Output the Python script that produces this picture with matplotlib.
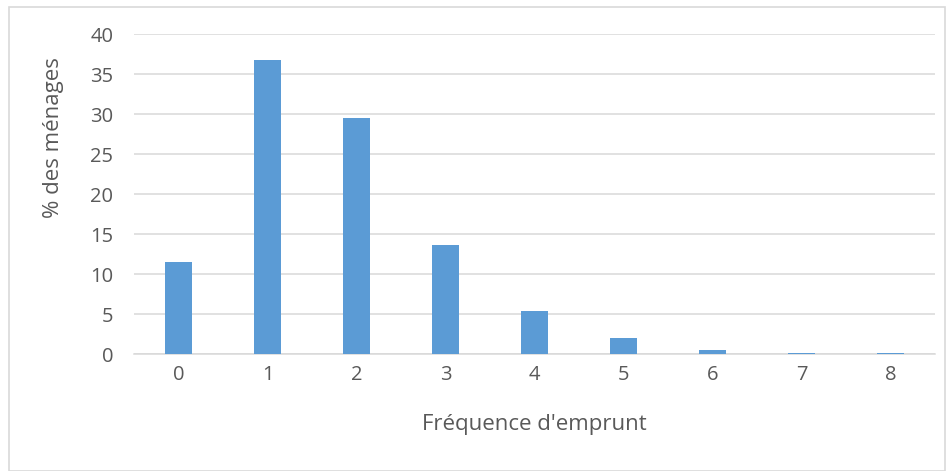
import matplotlib.pyplot as plt
from matplotlib.patches import Rectangle

# Data
categories = ["0", "1", "2", "3", "4", "5", "6", "7", "8"]
pct_households = [11.5, 36.7, 29.5, 13.6, 5.4, 2.0, 0.5, 0.15, 0.15]

text_color = "#595959"
grid_color = "#d9d9d9"
bar_color = "#5b9bd5"

plt.rcParams['font.family'] = ['Open Sans', 'DejaVu Sans']

W, H = 946, 471
fig = plt.figure(figsize=(W / 100, H / 100), dpi=100)
ax = fig.add_axes([134 / W, 1 - 354 / H, (935 - 134) / W, (354 - 34) / H])

x = range(len(categories))
ax.bar(x, pct_households, width=0.31, color=bar_color, zorder=3)

ax.set_xlim(-0.5, len(categories) - 0.5)
ax.set_ylim(0, 40)
ax.set_yticks(range(0, 41, 5))
ax.set_xticks(list(x))
ax.set_xticklabels(categories)

ax.grid(axis='y', color=grid_color, linewidth=1.1, zorder=0)
for side in ['top', 'right', 'left']:
    ax.spines[side].set_visible(False)
ax.spines['bottom'].set_color(grid_color)
ax.spines['bottom'].set_linewidth(1.1)
ax.tick_params(length=0, labelsize=14.5, colors=text_color)
ax.tick_params(axis='x', pad=8)
ax.tick_params(axis='y', pad=15)

ax.set_xlabel("Fréquence d'emprunt", fontsize=16, color=text_color)
ax.xaxis.set_label_coords(0.5, (354 - 414) / 320)
fig.text(54 / W, 1 - 138 / H, "% des ménages", rotation=90, fontsize=16,
         color=text_color, ha='center', va='center')

# chart border
fig.patches.append(Rectangle((9 / W, 0), 1 - 9 / W - 0.001, 1 - 7 / H,
                             transform=fig.transFigure, fill=False,
                             edgecolor=grid_color, linewidth=1.2))

fig.savefig("out.png", dpi=100)
